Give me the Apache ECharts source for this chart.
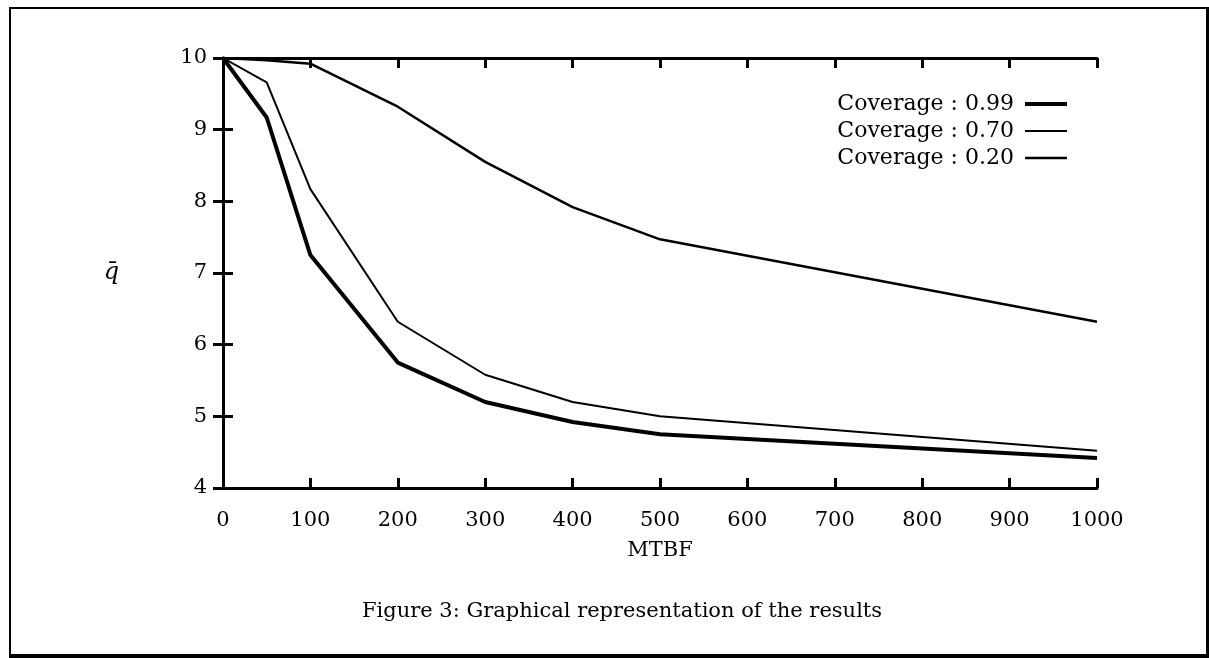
<!DOCTYPE html>
<html><head><meta charset="utf-8">
<script src="https://cdn.jsdelivr.net/npm/echarts@6/dist/echarts.min.js"></script>
<style>
html,body{margin:0;padding:0;background:#fff;}
#frame{position:absolute;left:9px;top:7px;width:1195px;height:645px;border-left:2px solid #000;border-top:2px solid #000;border-right:3px solid #000;border-bottom:4px solid #000;}
#chart{position:absolute;left:0;top:0;width:1209px;height:658px;}
</style></head>
<body>
<div id="frame"></div>
<div id="chart"></div>
<script>
const mtbf = [0, 50, 100, 200, 300, 400, 500, 1000];
const cov99 = [10, 9.17, 7.25, 5.75, 5.2, 4.92, 4.75, 4.42];
const cov70 = [10, 9.66, 8.17, 6.32, 5.58, 5.2, 5.0, 4.52];
const cov20 = [10, 9.97, 9.92, 9.32, 8.55, 7.92, 7.47, 6.32];
const seriesNames = ['Coverage : 0.99', 'Coverage : 0.70', 'Coverage : 0.20'];
const xTitle = 'MTBF';
const yTitle = 'q\u0304';
const caption = 'Figure 3: Graphical representation of the results';

const FONT = 'DejaVu Serif';
const widths = [4, 2, 2.5];
const pair = arr => mtbf.map((x, i) => [x, arr[i]]);
const chart = echarts.init(document.getElementById('chart'));
const axisLine = {show: true, lineStyle: {color: '#000', width: 3}};
const tick = {show: true, inside: true, length: 10, lineStyle: {color: '#000', width: 3}};
const mkSeries = (name, arr, w) => ({
  name, type: 'line', data: pair(arr), showSymbol: false, symbol: 'none',
  lineStyle: {color: '#000', width: w}, itemStyle: {color: '#000'}, animation: false
});
chart.setOption({
  animation: false,
  grid: {left: 223, top: 58, right: 112, bottom: 170},
  xAxis: [
    {type: 'value', min: 0, max: 1000, interval: 100, position: 'bottom',
     axisLine, axisTick: tick, splitLine: {show: false},
     axisLabel: {color: '#000', fontFamily: FONT, fontSize: 21, margin: 22, formatter: v => String(v)},
     name: xTitle, nameLocation: 'middle', nameGap: 52,
     nameTextStyle: {color: '#000', fontFamily: FONT, fontSize: 21}},
    {type: 'value', min: 0, max: 1000, interval: 100, position: 'top',
     axisLine, axisTick: tick, splitLine: {show: false}, axisLabel: {show: false}}
  ],
  yAxis: [
    {type: 'value', min: 4, max: 10, interval: 1, position: 'left',
     axisLine, axisTick: tick, splitLine: {show: false},
     axisLabel: {color: '#000', fontFamily: FONT, fontSize: 21, margin: 16},
     name: yTitle, nameLocation: 'middle', nameGap: 104, nameRotate: 0,
     nameTextStyle: {color: '#000', fontFamily: FONT, fontSize: 24, fontStyle: 'italic'}},
    {type: 'value', min: 4, max: 10, interval: 1, position: 'right',
     axisLine, axisTick: tick, splitLine: {show: false}, axisLabel: {show: false}}
  ],
  legend: {
    orient: 'vertical', right: 135, top: 88, align: 'right',
    itemWidth: 42, itemHeight: 14, itemGap: 5,
    itemStyle: {opacity: 0},
    textStyle: {color: '#000', fontFamily: FONT, fontSize: 22, padding: [0, 6, 0, 0]},
    data: seriesNames.map((n, i) => ({name: n, lineStyle: {color: '#000', width: widths[i]}}))
  },
  title: {
    text: caption, left: 617, top: 596, textAlign: 'center',
    textStyle: {color: '#000', fontFamily: FONT, fontSize: 21, fontWeight: 'normal'}
  },
  series: [
    mkSeries(seriesNames[0], cov99, widths[0]),
    mkSeries(seriesNames[1], cov70, widths[1]),
    mkSeries(seriesNames[2], cov20, widths[2])
  ]
});
</script>
</body></html>
